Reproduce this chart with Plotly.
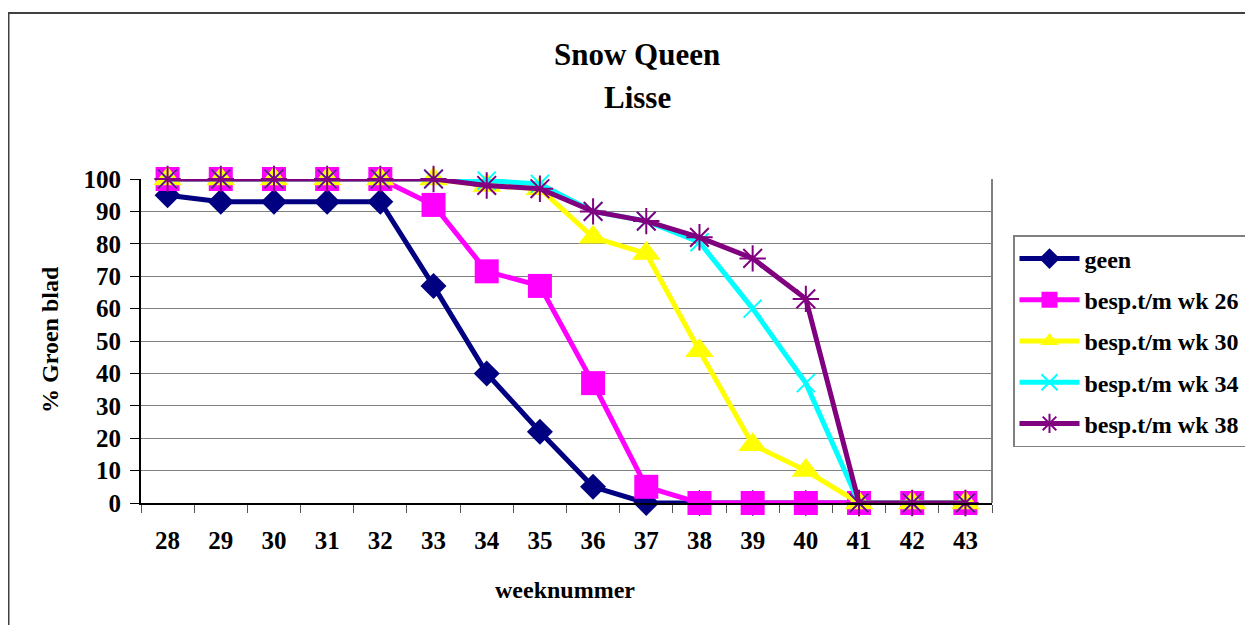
import plotly.graph_objects as go

weeks = ["28", "29", "30", "31", "32", "33", "34", "35", "36", "37", "38", "39", "40", "41", "42", "43"]
series_names = ["geen", "besp.t/m wk 26", "besp.t/m wk 30", "besp.t/m wk 34", "besp.t/m wk 38"]
geen = [95, 93, 93, 93, 93, 67, 40, 22, 5, 0, 0, 0, 0, 0, 0, 0]
wk26 = [100, 100, 100, 100, 100, 92, 71.5, 67, 37, 5, 0, 0, 0, 0, 0, 0]
wk30 = [100, 100, 100, 100, 100, 100, 98, 97, 82, 77, 47, 18, 10, 0, 0, 0]
wk34 = [100, 100, 100, 100, 100, 100, 99.5, 98.5, 90, 87, 80.5, 60, 37, 0, 0, 0]
wk38 = [100, 100, 100, 100, 100, 100, 98, 97, 90, 87, 82, 75.5, 63, 0, 0, 0]
y_ticks = [0, 10, 20, 30, 40, 50, 60, 70, 80, 90, 100]

W, H = 1253, 625
OFF = 8  # page body margin
L, R, T, B = 141 - OFF, 992 - OFF, 179 - OFF, 503 - OFF
pw, ph = R - L, B - T

def px(x):
    return (x - OFF - L) / pw

def py(y):
    return (B - (y - OFF)) / ph

FONT = "Liberation Serif"
styles = [
    dict(color="#000080", symbol="diamond", size=20, mline=0),
    dict(color="#FF00FF", symbol="square", size=24, mline=0),
    dict(color="#FFFF00", symbol="triangle-up", size=25, mline=0),
    dict(color="#00FFFF", symbol="x-thin-open", size=18, mline=2),
    dict(color="#800080", symbol="asterisk-open", size=22, mline=2),
]
data = [geen, wk26, wk30, wk34, wk38]

fig = go.Figure()
for i, (name, vals, st) in enumerate(zip(series_names, data, styles)):
    fig.add_trace(go.Scatter(
        x=weeks, y=vals, name=name, mode="lines+markers",
        line=dict(color=st["color"], width=5),
        marker=dict(symbol=st["symbol"], size=st["size"], color=st["color"],
                    line=dict(color=st["color"], width=st["mline"])),
        cliponaxis=False, legendgroup=f"g{i}",
    ))

fig.update_layout(
    width=W, height=H,
    margin=dict(l=L, r=W - R, t=T, b=H - B, pad=0),
    paper_bgcolor="white", plot_bgcolor="white",
    font=dict(family=FONT, size=25, color="black", weight="bold"),
    showlegend=True,
    legend=dict(
        x=px(1013), y=py(235), xanchor="left", yanchor="top",
        bordercolor="#808080", borderwidth=1.5, bgcolor="white",
        font=dict(family=FONT, size=24, color="black", weight="bold"),
        tracegroupgap=7, itemwidth=60,
    ),
    xaxis=dict(
        type="category", categoryorder="array", categoryarray=weeks,
        range=[-0.5, len(weeks) - 0.5], autorange=False,
        tickson="boundaries", ticks="outside", ticklen=8, tickcolor="#555",
        tickwidth=1, showgrid=False, showline=True, linecolor="black", linewidth=2,
        ticklabelstandoff=14, zeroline=False,
        tickfont=dict(family=FONT, size=25, weight="bold"),
    ),
    yaxis=dict(
        range=[0, 100], tickvals=y_ticks, ticks="outside", ticklen=9,
        tickcolor="black", tickwidth=1, showgrid=True, gridcolor="#808080",
        gridwidth=1.3, showline=True, linecolor="black", linewidth=2,
        zeroline=False, ticklabelstandoff=4,
        tickfont=dict(family=FONT, size=25, weight="bold"),
    ),
    shapes=[
        dict(type="rect", xref="paper", yref="paper", x0=px(8.5), x1=px(1400),
             y0=py(800), y1=py(13), line=dict(color="#404040", width=2), layer="below"),
        dict(type="line", xref="paper", yref="paper", x0=1, x1=1, y0=0, y1=1,
             line=dict(color="#808080", width=2), layer="below"),
    ],
    annotations=[
        dict(text="Snow Queen", xref="paper", yref="paper", x=px(637), y=py(54),
             xanchor="center", yanchor="middle", showarrow=False,
             font=dict(family=FONT, size=31, weight="bold")),
        dict(text="Lisse", xref="paper", yref="paper", x=px(637), y=py(97),
             xanchor="center", yanchor="middle", showarrow=False,
             font=dict(family=FONT, size=31, weight="bold")),
        dict(text="weeknummer", xref="paper", yref="paper", x=px(565), y=py(590),
             xanchor="center", yanchor="middle", showarrow=False,
             font=dict(family=FONT, size=24, weight="bold")),
        dict(text="% Groen blad", xref="paper", yref="paper", x=px(50), y=py(340),
             xanchor="center", yanchor="middle", showarrow=False, textangle=-90,
             font=dict(family=FONT, size=24, weight="bold")),
    ],
)

fig.write_html("out.html")
